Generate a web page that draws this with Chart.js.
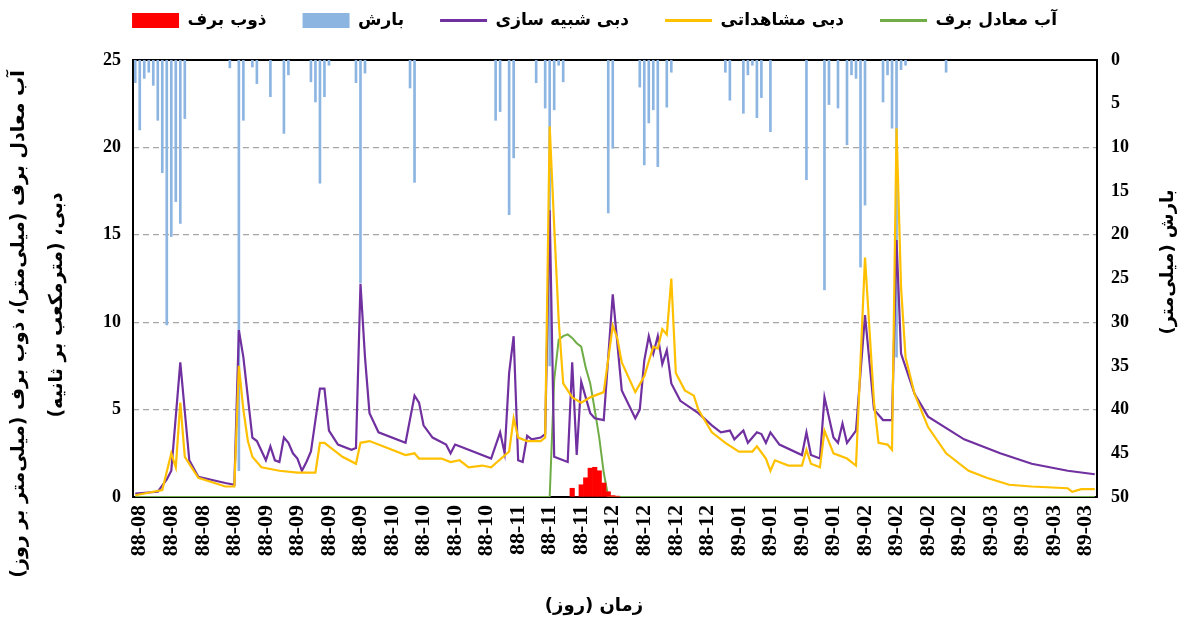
<!DOCTYPE html>
<html lang="fa">
<head>
<meta charset="utf-8">
<title>Snow melt, precipitation and discharge</title>
<script src="https://cdn.jsdelivr.net/npm/chart.js@4.4.1/dist/chart.umd.min.js"></script>
<style>
  html, body { margin: 0; padding: 0; background: #fff; }
  canvas { display: block; }
</style>
</head>
<body>
<canvas id="chart" width="1189" height="626"></canvas>
<script>
'use strict';

// x axis: one category per day, a tick label every 7 days
var firstTickDay = 1;
var tickLabels = ['88-08', '88-08', '88-08', '88-08', '88-09', '88-09', '88-09', '88-09',
  '88-10', '88-10', '88-10', '88-10', '88-11', '88-11', '88-11', '88-12', '88-12', '88-12', '88-12',
  '89-01', '89-01', '89-01', '89-01', '89-02', '89-02', '89-02', '89-02', '89-03', '89-03', '89-03', '89-03'];

// simulated discharge (m3/s)
var simDays = [0, 5, 7, 8, 10, 12, 14, 20, 22, 23, 24, 26, 27, 29, 30, 31, 32, 33, 34, 35,
  36, 37, 38, 39, 41, 42, 43, 44, 45, 48, 49, 50, 51, 52, 54, 60, 62, 63, 64, 66,
  69, 70, 71, 72, 74, 79, 81, 82, 83, 84, 85, 86, 87, 88, 90, 91, 92, 93, 96, 97,
  98, 99, 101, 102, 104, 106, 108, 111, 112, 113, 114, 115, 116, 117, 118, 119, 121, 125, 128, 130,
  132, 133, 135, 136, 138, 139, 140, 141, 143, 148, 149, 150, 152, 153, 155, 156, 157, 158, 160, 162,
  164, 166, 168, 169, 170, 173, 176, 184, 192, 199, 207, 213];
var simVals = [0.2, 0.3, 1.0, 1.5, 7.7, 2.1, 1.15, 0.8, 0.7, 9.55, 8.0, 3.4, 3.2, 2.1, 2.9, 2.1, 2.0, 3.4, 3.1, 2.5,
  2.2, 1.5, 2.0, 2.6, 6.2, 6.2, 3.8, 3.4, 3.0, 2.7, 2.8, 12.2, 8.0, 4.8, 3.7, 3.1, 5.8, 5.4, 4.1, 3.4,
  3.0, 2.5, 3.0, 2.9, 2.7, 2.2, 3.7, 2.5, 7.1, 9.2, 2.1, 2.0, 3.5, 3.3, 3.4, 3.6, 16.4, 2.3, 2.0, 7.7,
  2.4, 6.6, 4.8, 4.5, 4.4, 11.6, 6.1, 4.5, 5.0, 7.8, 9.2, 8.2, 9.2, 7.6, 8.4, 6.5, 5.5, 4.8, 4.1, 3.7,
  3.8, 3.3, 3.8, 3.1, 3.7, 3.6, 3.1, 3.7, 3.0, 2.4, 3.7, 2.4, 2.2, 5.7, 3.4, 3.1, 4.2, 3.1, 3.8, 10.4,
  5.0, 4.4, 4.4, 14.7, 8.2, 5.9, 4.6, 3.3, 2.5, 1.9, 1.5, 1.3];

// observed discharge (m3/s)
var obsDays = [0, 6, 8, 9, 10, 11, 12, 14, 20, 22, 23, 24, 25, 26, 28, 32, 36, 40, 41, 42,
  46, 49, 50, 52, 55, 60, 62, 63, 68, 70, 72, 74, 77, 79, 83, 84, 85, 87, 90, 91,
  92, 93, 94, 95, 97, 99, 101, 104, 106, 107, 108, 111, 113, 115, 116, 117, 118, 119, 120, 122,
  124, 125, 128, 131, 134, 137, 138, 140, 141, 142, 145, 148, 149, 150, 152, 153, 155, 158, 160, 162,
  164, 165, 167, 168, 169, 170, 171, 173, 176, 180, 185, 189, 194, 199, 207, 208, 210, 213];
var obsVals = [0.1, 0.4, 2.5, 1.7, 5.4, 2.3, 1.9, 1.1, 0.6, 0.6, 7.5, 5.0, 3.2, 2.3, 1.7, 1.5, 1.4, 1.4, 3.1, 3.1,
  2.3, 1.9, 3.1, 3.2, 2.9, 2.4, 2.5, 2.2, 2.2, 2.0, 2.1, 1.7, 1.8, 1.7, 2.6, 4.5, 3.4, 3.2, 3.2, 3.4,
  21.2, 15.5, 10.1, 6.5, 5.7, 5.4, 5.7, 6.0, 9.8, 9.1, 7.7, 6.0, 6.9, 8.6, 8.5, 9.6, 9.3, 12.5, 7.1, 6.1,
  5.8, 5.0, 3.7, 3.1, 2.6, 2.6, 2.9, 2.2, 1.5, 2.1, 1.8, 1.8, 2.7, 1.9, 1.7, 3.8, 2.5, 2.2, 1.8, 13.7,
  5.4, 3.1, 3.0, 2.7, 21.1, 12.0, 8.0, 5.9, 4.0, 2.5, 1.5, 1.1, 0.7, 0.6, 0.5, 0.3, 0.45, 0.45];

// snow water equivalent (mm)
var sweDays = [0, 92, 93, 94, 95, 96, 97, 98, 99, 100, 101, 102, 103, 104, 105, 213];
var sweVals = [0, 0, 6.7, 9.0, 9.2, 9.3, 9.1, 8.8, 8.6, 7.4, 6.5, 5.0, 3.4, 1.4, 0, 0];

// snow melt (mm/day)
var meltDays = [97, 98, 99, 100, 101, 102, 103, 104, 105, 106, 107];
var meltVals = [0.5, 0, 0.7, 1.1, 1.65, 1.7, 1.5, 0.8, 0.3, 0.08, 0.05];

// precipitation (mm), right axis, reversed
var precipDays = [0, 1, 2, 3, 4, 5, 6, 7, 8, 9, 10, 11, 21, 23, 24, 26, 27, 30, 33, 34,
  39, 40, 41, 42, 43, 49, 50, 51, 61, 62, 80, 81, 83, 84, 89, 91, 92, 93, 94, 95,
  105, 106, 112, 113, 114, 115, 116, 118, 119, 131, 132, 135, 136, 137, 138, 139, 141, 149, 153, 154,
  156, 158, 159, 160, 161, 162, 166, 167, 168, 169, 170, 171, 180];
var precipVals = [2.6, 8.0, 2.1, 1.4, 2.9, 6.9, 12.9, 30.3, 20.2, 16.2, 18.7, 6.7, 0.9, 47, 6.9, 0.8, 2.7, 4.2, 8.4, 1.7,
  2.5, 4.8, 14.1, 4.2, 0.6, 2.6, 25.5, 1.5, 3.2, 14.0, 6.9, 5.9, 17.7, 11.2, 2.6, 5.5, 35, 5.7, 0.6, 2.5,
  17.5, 10.1, 3.1, 12.0, 7.2, 5.7, 12.2, 5.4, 1.4, 1.4, 4.6, 6.1, 1.7, 0.6, 6.6, 4.3, 8.2, 13.7, 26.3, 5.1,
  5.5, 9.7, 1.7, 2.1, 23.7, 16.6, 4.8, 1.7, 7.8, 34, 1.1, 0.6, 1.4];

var persianFont = "'DejaVu Sans', sans-serif";
var numberFont = { family: "'Liberation Serif', 'Times New Roman', serif", weight: 'bold', size: 18 };

function toPoints(days, vals) {
  return days.map(function (d, i) { return { x: d, y: vals[i] }; });
}

// legend goes left to right: melt, precip, simulated, observed, swe
var legendRank = { 4: 0, 3: 1, 2: 2, 1: 3, 0: 4 };

// legend sits a bit above the canvas top (wide item gaps), plot starts at y=60
var legendShift = 24;
var legendGap = {
  id: 'legendGap',
  beforeInit: function (chart) {
    var fit = chart.legend.fit;
    chart.legend.fit = function () {
      fit.bind(chart.legend)();
      this.height = 60 + legendShift;
    };
  }
};

var frameAndTitles = {
  id: 'frameAndTitles',
  beforeDatasetsDraw: function (chart) {
    var c = chart.ctx, a = chart.chartArea;
    c.save();
    c.strokeStyle = '#000';
    c.lineWidth = 2;
    c.strokeRect(a.left, a.top, a.right - a.left, a.bottom - a.top);
    c.restore();
  },
  afterDraw: function (chart) {
    var c = chart.ctx;
    function title(text, x, y, angle, size) {
      c.save();
      c.translate(x, y);
      c.rotate(angle);
      c.font = 'bold ' + size + 'px ' + persianFont;
      c.fillStyle = '#000';
      c.textAlign = 'center';
      c.textBaseline = 'middle';
      c.direction = 'rtl';
      c.fillText(text, 0, 0);
      c.restore();
    }
    title('آب معادل برف (میلی\u200cمتر)، ذوب برف (میلی\u200cمتر بر روز)', 19, 324, -Math.PI / 2, 19);
    title('دبی، (مترمکعب بر ثانیه)', 57, 305, -Math.PI / 2, 19);
    title('بارش (میلی\u200cمتر)', 1168, 262, -Math.PI / 2, 18);
    title('زمان (روز)', 594, 606, 0, 18);
  }
};

var ctx = document.getElementById('chart').getContext('2d');
new Chart(ctx, {
  type: 'bar',
  data: {
    datasets: [
      { type: 'line', label: 'آب معادل برف', data: toPoints(sweDays, sweVals), yAxisID: 'y',
        borderColor: '#70AD47', backgroundColor: '#70AD47', borderWidth: 2, pointBorderWidth: 3,
        pointRadius: 0, pointStyle: 'line', tension: 0, order: 3 },
      { type: 'line', label: 'دبی مشاهداتی', data: toPoints(obsDays, obsVals), yAxisID: 'y',
        borderColor: '#FFC000', backgroundColor: '#FFC000', borderWidth: 2.2, pointBorderWidth: 3,
        pointRadius: 0, pointStyle: 'line', tension: 0, order: 1 },
      { type: 'line', label: 'دبی شبیه سازی', data: toPoints(simDays, simVals), yAxisID: 'y',
        borderColor: '#7030A0', backgroundColor: '#7030A0', borderWidth: 2.2, pointBorderWidth: 3,
        pointRadius: 0, pointStyle: 'line', tension: 0, order: 2 },
      { type: 'bar', label: 'بارش', data: toPoints(precipDays, precipVals), yAxisID: 'yP',
        backgroundColor: '#8DB5E2', borderWidth: 0, barThickness: 2, grouped: false,
        pointStyle: 'rect', order: 4 },
      { type: 'bar', label: 'ذوب برف', data: toPoints(meltDays, meltVals), yAxisID: 'y',
        backgroundColor: '#FF0000', borderWidth: 0, barThickness: 4.5, grouped: false,
        pointStyle: 'rect', order: 0 }
    ]
  },
  options: {
    responsive: false,
    animation: false,
    layout: { padding: { top: -legendShift, left: 0, right: 0, bottom: 0 } },
    plugins: {
      tooltip: { enabled: false },
      legend: {
        position: 'top',
        labels: {
          usePointStyle: true,
          pointStyleWidth: 47,
          boxHeight: 15,
          padding: 36,
          color: '#000',
          font: { family: persianFont, weight: 'bold', size: 17 },
          sort: function (a, b) { return legendRank[a.datasetIndex] - legendRank[b.datasetIndex]; }
        }
      }
    },
    scales: {
      x: {
        type: 'linear',
        min: -0.5,
        max: 213.5,
        offset: false,
        grid: { display: false, drawTicks: false },
        border: { display: false },
        afterBuildTicks: function (scale) {
          scale.ticks = tickLabels.map(function (_, k) { return { value: firstTickDay + 7 * k }; });
        },
        ticks: {
          autoSkip: false,
          minRotation: 90,
          maxRotation: 90,
          padding: 8,
          color: '#000',
          font: { family: numberFont.family, weight: 'bold', size: 22 },
          callback: function (value, index) { return tickLabels[index]; }
        },
        afterFit: function (scale) { scale.height = 129; }
      },
      y: {
        position: 'left',
        min: 0,
        max: 25,
        ticks: { stepSize: 5, padding: 12, color: '#000', font: numberFont },
        grid: {
          drawTicks: false,
          lineWidth: 1.3,
          color: function (c) {
            var v = c.tick && c.tick.value;
            return (v === 0 || v === 25) ? 'rgba(0,0,0,0)' : '#A6A6A6';
          }
        },
        border: { display: false, dash: [6, 4] },
        afterFit: function (scale) { scale.width = 133; }
      },
      yP: {
        position: 'right',
        min: 0,
        max: 50,
        reverse: true,
        ticks: { stepSize: 5, padding: 14, color: '#000', font: numberFont },
        grid: { display: false, drawTicks: false },
        border: { display: false },
        afterFit: function (scale) { scale.width = 92; }
      }
    }
  },
  plugins: [legendGap, frameAndTitles]
});
</script>
</body>
</html>
